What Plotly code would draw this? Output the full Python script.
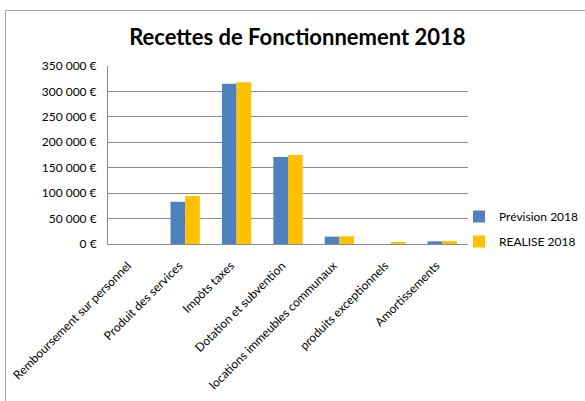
import plotly.graph_objects as go

categories = ["Remboursement sur personnel", "Produit des services", "Impôts taxes",
              "Dotation et subvention", "locations immeubles communaux",
              "produits exceptionnels", "Amortissements"]
prevision_2018 = [0, 83000, 315000, 171000, 14500, 0, 5300]
realise_2018 = [0, 94500, 318000, 175000, 15000, 4000, 5800]
y_tick_vals = [0, 50000, 100000, 150000, 200000, 250000, 300000, 350000]
y_tick_text = ["0 €", "50 000 €", "100 000 €", "150 000 €", "200 000 €",
               "250 000 €", "300 000 €", "350 000 €"]

FONT = "Lato, Open Sans, sans-serif"

fig = go.Figure()
fig.add_trace(go.Bar(x=categories, y=prevision_2018, name="Prévision 2018",
                     marker=dict(color="#4F81BD", line=dict(width=0)), legendgroup="a"))
fig.add_trace(go.Bar(x=categories, y=realise_2018, name="REALISE 2018",
                     marker=dict(color="#FFC000", line=dict(width=0)), legendgroup="b"))

L, R, T, B = 108, 117, 66, 157
W, H = 585, 401
pw, ph = W - L - R, H - T - B

def px_x(p):
    return (p - L) / pw

def px_y(p):
    return (H - B - p) / ph

fig.update_layout(
    width=W, height=H,
    margin=dict(l=L, r=R, t=T, b=B, autoexpand=False),
    paper_bgcolor="white", plot_bgcolor="white",
    font=dict(family=FONT, size=12, color="#000000"),
    title=dict(text="<b>Recettes de Fonctionnement 2018</b>", x=px_x(291), xanchor="center",
               y=1 - 37 / H, yanchor="middle", font=dict(size=22, family=FONT, color="#000000")),
    barmode="group", bargap=0.43, bargroupgap=0,
    showlegend=True,
    legend=dict(x=px_x(459), y=px_y(202), xanchor="left", yanchor="top",
                font=dict(size=12, family=FONT), tracegroupgap=6, itemwidth=30,
                bgcolor="rgba(0,0,0,0)"),
    xaxis=dict(tickangle=-45, showline=True, linecolor="#8c8c8c", linewidth=1,
               showgrid=False, ticks="", tickfont=dict(size=12), fixedrange=True,
               automargin=False, ticklabelshift=-6, ticklabelstandoff=9),
    yaxis=dict(range=[0, 350000], tickvals=y_tick_vals, ticktext=y_tick_text,
               showline=True, linecolor="#8c8c8c", linewidth=1,
               showgrid=True, gridcolor="#8c8c8c", gridwidth=1.3, zeroline=False,
               ticks="", tickfont=dict(size=12), ticklabelstandoff=8, automargin=False),
    shapes=[
        dict(type="line", xref="paper", yref="paper", x0=px_x(5.5), x1=px_x(585), y0=px_y(10.5), y1=px_y(10.5),
             line=dict(color="#a6a6a6", width=1)),
        dict(type="line", xref="paper", yref="paper", x0=px_x(5.5), x1=px_x(5.5), y0=px_y(10.5), y1=px_y(401),
             line=dict(color="#a6a6a6", width=1)),
    ],
)

fig.write_html("out.html", config={"displayModeBar": False},
               post_script="document.body.style.margin='0';document.body.style.overflow='hidden';")
